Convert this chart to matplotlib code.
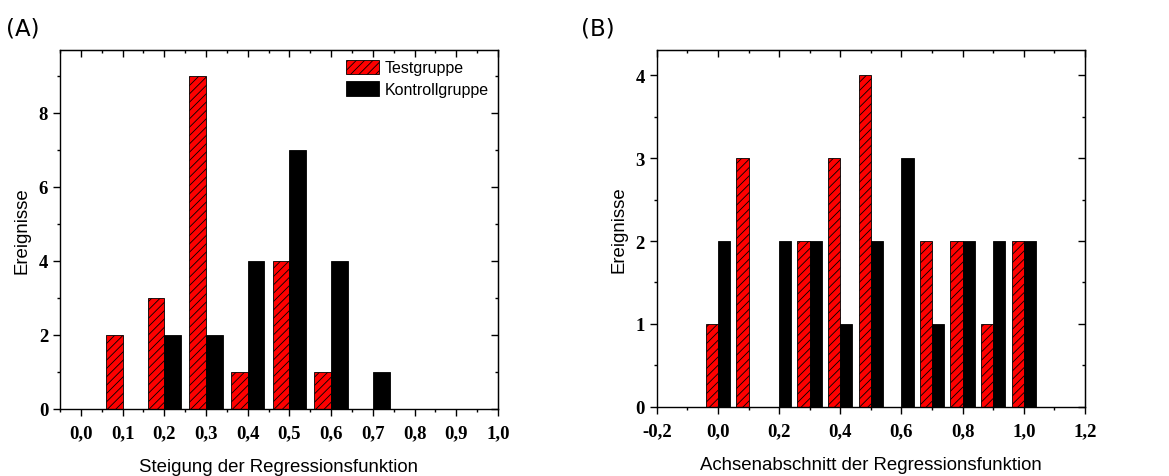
import matplotlib
matplotlib.use("Agg")
import matplotlib.pyplot as plt
from matplotlib.ticker import MultipleLocator, FuncFormatter

# Panel A data
a_bins = [0.1, 0.2, 0.3, 0.4, 0.5, 0.6, 0.7]
a_test = [2, 3, 9, 1, 4, 1, 0]
a_ctrl = [0, 2, 2, 4, 7, 4, 1]

# Panel B data
b_bins = [0.0, 0.1, 0.2, 0.3, 0.4, 0.5, 0.6, 0.7, 0.8, 0.9, 1.0]
b_test = [1, 3, 0, 2, 3, 4, 0, 2, 2, 1, 2]
b_ctrl = [2, 0, 2, 2, 1, 2, 3, 1, 2, 2, 2]

labels = ["Testgruppe", "Kontrollgruppe"]
xlabel_a = "Steigung der Regressionsfunktion"
xlabel_b = "Achsenabschnitt der Regressionsfunktion"
ylabel = "Ereignisse"

plt.rcParams['hatch.linewidth'] = 0.6
W = 0.04

fig = plt.figure(figsize=(11.69, 4.77), dpi=100)
axA = fig.add_axes([0.0513, 0.1405, 0.3747, 0.7525])
axB = fig.add_axes([0.5618, 0.1453, 0.3663, 0.7484])

tickfont = dict(family="Liberation Serif", weight="bold", size=13.5)
labfont = dict(family="Liberation Sans", size=13.4)

def comma(x, nd):
    if abs(x) < 1e-9:
        x = 0.0
    return f"{x:.{nd}f}".replace(".", ",")

def style(ax, xmaj, xmin, ymaj, ymin, xnd):
    ax.xaxis.set_major_locator(MultipleLocator(xmaj))
    ax.xaxis.set_minor_locator(MultipleLocator(xmin))
    ax.yaxis.set_major_locator(MultipleLocator(ymaj))
    ax.yaxis.set_minor_locator(MultipleLocator(ymin))
    ax.xaxis.set_major_formatter(FuncFormatter(lambda x, p: comma(x, xnd)))
    ax.yaxis.set_major_formatter(FuncFormatter(lambda y, p: f"{int(round(y))}"))
    ax.tick_params(which='both', direction='out', width=1.0)
    ax.tick_params(which='major', length=5)
    ax.tick_params(which='minor', length=2.5)
    ax.tick_params(axis='x', which='major', pad=6)
    for lab in ax.get_xticklabels() + ax.get_yticklabels():
        lab.set_fontfamily(tickfont['family'])
        lab.set_fontweight('bold')
        lab.set_fontsize(tickfont['size'])
    for s in ax.spines.values():
        s.set_linewidth(1.0)
    top = ax.secondary_xaxis('top')
    top.xaxis.set_major_locator(MultipleLocator(xmaj))
    top.xaxis.set_minor_locator(MultipleLocator(xmin))
    top.tick_params(which='both', direction='in', labeltop=False, width=1.0)
    top.tick_params(which='major', length=5)
    top.tick_params(which='minor', length=2.5)
    right = ax.secondary_yaxis('right')
    right.yaxis.set_major_locator(MultipleLocator(ymaj))
    right.yaxis.set_minor_locator(MultipleLocator(ymin))
    right.tick_params(which='both', direction='in', labelright=False, width=1.0)
    right.tick_params(which='major', length=5)
    right.tick_params(which='minor', length=2.5)

# Panel A
axA.bar(a_bins, a_test, width=-W, align='edge', color='#ff0000', edgecolor='black',
        linewidth=0.6, hatch='////', label=labels[0])
axA.bar(a_bins, a_ctrl, width=W, align='edge', color='black', edgecolor='black',
        linewidth=0.6, label=labels[1])
axA.set_xlim(-0.05, 1.0)
axA.set_ylim(0, 9.69)
style(axA, 0.1, 0.05, 2, 1, 1)
axA.set_xlabel(xlabel_a, **labfont, labelpad=12)
axA.set_ylabel(ylabel, **labfont, labelpad=6)
leg = axA.legend(loc='upper right', frameon=False, prop=dict(family="Liberation Sans", size=11.5),
                 handlelength=2.1, handleheight=1.05, borderaxespad=0.2, labelspacing=0.35,
                 handletextpad=0.3, bbox_to_anchor=(1.0, 1.0))

# Panel B
axB.bar(b_bins, b_test, width=-W, align='edge', color='#ff0000', edgecolor='black',
        linewidth=0.6, hatch='////')
axB.bar(b_bins, b_ctrl, width=W, align='edge', color='black', edgecolor='black',
        linewidth=0.6)
axB.set_xlim(-0.2, 1.2)
axB.set_ylim(0, 4.31)
style(axB, 0.2, 0.1, 1, 0.5, 1)
axB.set_xlabel(xlabel_b, **labfont, labelpad=12)
axB.set_ylabel(ylabel, **labfont, labelpad=6)

fig.text(0.005, 0.925, "(A)", fontsize=16.5, family="DejaVu Sans")
fig.text(0.497, 0.925, "(B)", fontsize=16.5, family="DejaVu Sans")

fig.savefig("out.png", dpi=100)
